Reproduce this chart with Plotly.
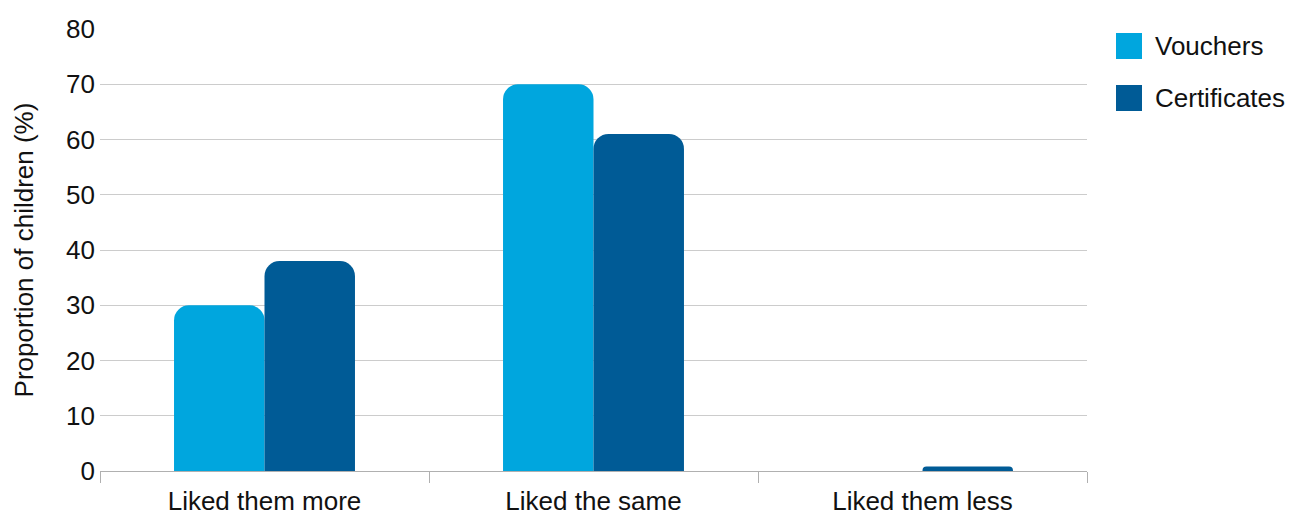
import plotly.graph_objects as go

categories = ["Liked them more", "Liked the same", "Liked them less"]
vouchers = [30, 70, 0]
certificates = [38, 61, 0.8]
series_names = ["Vouchers", "Certificates"]
colors = ["#00A6DE", "#005B96"]
y_ticks = [0, 10, 20, 30, 40, 50, 60, 70, 80]

FONT = "Liberation Sans, Arial, Helvetica, sans-serif"
FS = 26

# page body has an 8px margin, so offset the figure
L, T, R, B = 92, 21, 206, 44
W, H = 1285, 507
PW, PH = W - L - R, H - T - B

fig = go.Figure()
for name, vals, col in zip(series_names, [vouchers, certificates], colors):
    fig.add_trace(go.Bar(x=categories, y=vals, name=name, marker_color=col,
                         marker_line_width=0, showlegend=False))

fig.update_layout(
    width=W, height=H,
    margin=dict(l=L, r=R, t=T, b=B, autoexpand=False),
    plot_bgcolor="white", paper_bgcolor="white",
    barmode="group", bargap=0.45, bargroupgap=0,
    barcornerradius=15,
    font=dict(family=FONT, size=FS, color="#111111"),
    xaxis=dict(showgrid=False, showline=True, linecolor="#b0b0b0", linewidth=1,
               ticks="outside", tickson="boundaries", ticklen=11, tickcolor="#b0b0b0",
               tickfont=dict(size=FS), ticklabelstandoff=7),
    yaxis=dict(range=[0, 80], tickvals=y_ticks, showgrid=True, gridcolor="#cccccc",
               gridwidth=1, zeroline=False, showline=False, ticks="",
               tickfont=dict(size=FS), ticklabelstandoff=4,
               title=dict(text="Proportion of children (%)", font=dict(size=FS), standoff=24)),
)

# custom legend with larger squares (coordinates relative to plot area)
for i, (name, col) in enumerate(zip(series_names, colors)):
    yc = 38 + i * 52  # page y minus 8px body offset
    x0 = 1116 - 8 - L
    fig.add_shape(type="rect", xref="paper", yref="paper",
                  x0=x0 / PW, x1=(x0 + 26) / PW,
                  y0=(T + PH - (yc + 13)) / PH, y1=(T + PH - (yc - 13)) / PH,
                  fillcolor=col, line_width=0)
    fig.add_annotation(xref="paper", yref="paper", x=(1153 - 8 - L) / PW,
                       y=(T + PH - yc) / PH, text=name, showarrow=False,
                       xanchor="left", yanchor="middle", font=dict(size=FS, family=FONT))

fig.write_html("out.html")
